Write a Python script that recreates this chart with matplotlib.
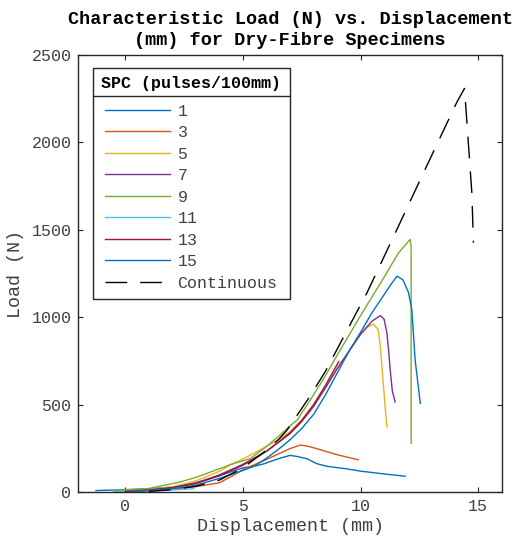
import numpy as np
import matplotlib
matplotlib.use('Agg')
from matplotlib import pyplot as plt
from matplotlib.lines import Line2D

# data (displacement mm, load N)
labels = ['1', '3', '5', '7', '9', '11', '13', '15', 'Continuous']
colors = ['#0072BD', '#D95319', '#EDB120', '#7E2F8E', '#77AC30',
          '#4DBEEE', '#A2142F', '#0072BD', 'k']

x1 = [-1.25, 0, 1, 2, 3, 4, 5, 5.5, 5.9, 6.5, 7.0, 7.3, 7.72, 8.15, 8.6, 9.42, 10, 11, 11.9]
y1 = [10, 15, 20, 30, 55, 95, 140, 150, 163, 192, 211, 205, 192, 163, 148, 134, 121, 105, 92]

x3 = [0.5, 2, 3, 4, 4.5, 5, 5.9, 6.6, 7.0, 7.44, 7.7, 8, 9, 9.9]
y3 = [5, 18, 32, 55, 90, 130, 182, 225, 250, 270, 265, 255, 215, 186]

x5 = [0, 1, 2, 3, 4, 4.5, 5, 5.9, 6.5, 7, 7.5, 8, 8.5, 9, 10, 10.3, 10.55, 10.75,
      10.84, 10.95, 11.05, 11.12]
y5 = [10, 16, 32, 65, 120, 160, 190, 255, 300, 345, 415, 500, 600, 710, 900, 945, 962,
      930, 833, 650, 480, 374]

x7 = [0, 1, 2, 3, 4, 5, 6, 6.5, 7, 7.5, 8, 8.5, 9, 10, 10.5, 10.84, 11.0, 11.12, 11.2,
      11.26, 11.35, 11.47]
y7 = [8, 14, 27, 52, 100, 160, 235, 285, 335, 405, 490, 595, 705, 905, 980, 1010, 990,
      912, 800, 700, 580, 517]

x9 = [-0.5, 1, 2.3, 3, 4, 4.5, 5.3, 6, 6.6, 7, 7.3, 7.86, 8.5, 9.14, 10, 11, 11.62,
      12.11, 12.15, 12.15]
y9 = [10, 22, 58, 85, 135, 160, 192, 262, 330, 380, 412, 527, 665, 815, 1010, 1230, 1370,
      1446, 1400, 280]

x11 = [-0.5, 0.5, 1.5, 2.2, 2.9]
y11 = [5, 8, 12, 15, 20]

x13 = [0, 1, 2, 3, 4, 5, 6, 6.5, 7, 7.5, 8, 8.5, 9.07]
y13 = [5, 12, 25, 50, 95, 155, 235, 285, 340, 410, 500, 610, 747]

x15 = [0.3, 1, 2, 3, 4, 5, 5.5, 6, 6.5, 7, 7.5, 8, 8.5, 9, 9.5, 10, 10.5, 11, 11.3,
       11.55, 11.8, 12.04, 12.18, 12.32, 12.54]
y15 = [5, 10, 20, 40, 80, 125, 150, 195, 245, 300, 365, 445, 555, 680, 805, 915, 1030,
       1130, 1190, 1236, 1215, 1142, 1044, 757, 508]

xc = [1, 2, 3, 4, 5, 5.8, 6.5, 6.87, 7.3, 7.79, 8.5, 9.14, 10.27, 11.55, 12.82, 14.1,
      14.42, 14.52, 14.73, 14.8]
yc = [5, 15, 35, 70, 140, 220, 300, 355, 440, 537, 690, 853, 1140, 1504, 1868, 2232,
      2309, 2117, 1715, 1427]

series = [(x1, y1), (x3, y3), (x5, y5), (x7, y7), (x9, y9),
          (x11, y11), (x13, y13), (x15, y15), (xc, yc)]

mono = 'Liberation Mono'
grey = '#262626'
tgrey = '#404040'

fig = plt.figure(figsize=(5.18, 5.41), dpi=100)
ax = fig.add_axes([0.1512, 0.09, 0.8173, 0.8083])

handles = []
for (xs, ys), c, lab in zip(series, colors, labels):
    if lab == 'Continuous':
        h, = ax.plot(xs, ys, color=c, lw=1.0, dashes=(15.6, 9.4), label=lab)
    else:
        h, = ax.plot(xs, ys, color=c, lw=1.0, label=lab)
    handles.append(h)

ax.set_xlim(-2, 16)
ax.set_ylim(0, 2500)
ax.set_xticks([0, 5, 10, 15])
ax.set_yticks([0, 500, 1000, 1500, 2000, 2500])
ax.tick_params(direction='in', length=3.6, width=0.8, top=True, right=True,
               labelsize=12, colors=grey, labelcolor=tgrey, pad=5)
for t in ax.get_xticklabels() + ax.get_yticklabels():
    t.set_fontfamily(mono)
for s in ax.spines.values():
    s.set_color(grey)
    s.set_linewidth(1.0)

ax.set_xlabel('Displacement (mm)', fontfamily=mono, fontsize=13.2, color=tgrey, labelpad=3)
ax.set_ylabel('Load (N)', fontfamily=mono, fontsize=13.2, color=tgrey, labelpad=5)
ax.set_title('Characteristic Load (N) vs. Displacement\n(mm) for Dry-Fibre Specimens',
             fontfamily=mono, fontsize=13.3, fontweight='bold', linespacing=1.3, pad=7.5)

leg = ax.legend(handles=handles, loc='upper left', bbox_to_anchor=(0.0344, 0.971),
                borderaxespad=0, prop={'family': mono, 'size': 12},
                title='SPC (pulses/100mm)',
                title_fontproperties={'family': mono, 'size': 12, 'weight': 'bold'},
                handlelength=3.9, handletextpad=0.45, labelspacing=0.39,
                fancybox=False, framealpha=1, edgecolor=grey, borderpad=0.5)
leg.get_frame().set_linewidth(1.0)
for t in leg.get_texts():
    t.set_color(tgrey)
# extra room between the title and the entries
leg._legend_box.sep = 9

# separator under the legend title
fig.canvas.draw()
r = fig.canvas.get_renderer()
fb = leg.get_frame().get_window_extent(r)
tb = leg.get_title().get_window_extent(r)
yy = (tb.y0 - 5) / fig.bbox.height
fig.add_artist(Line2D([fb.x0 / fig.bbox.width, fb.x1 / fig.bbox.width], [yy, yy],
                      color=grey, lw=1.0, transform=fig.transFigure))

plt.savefig('out.png', dpi=100)
